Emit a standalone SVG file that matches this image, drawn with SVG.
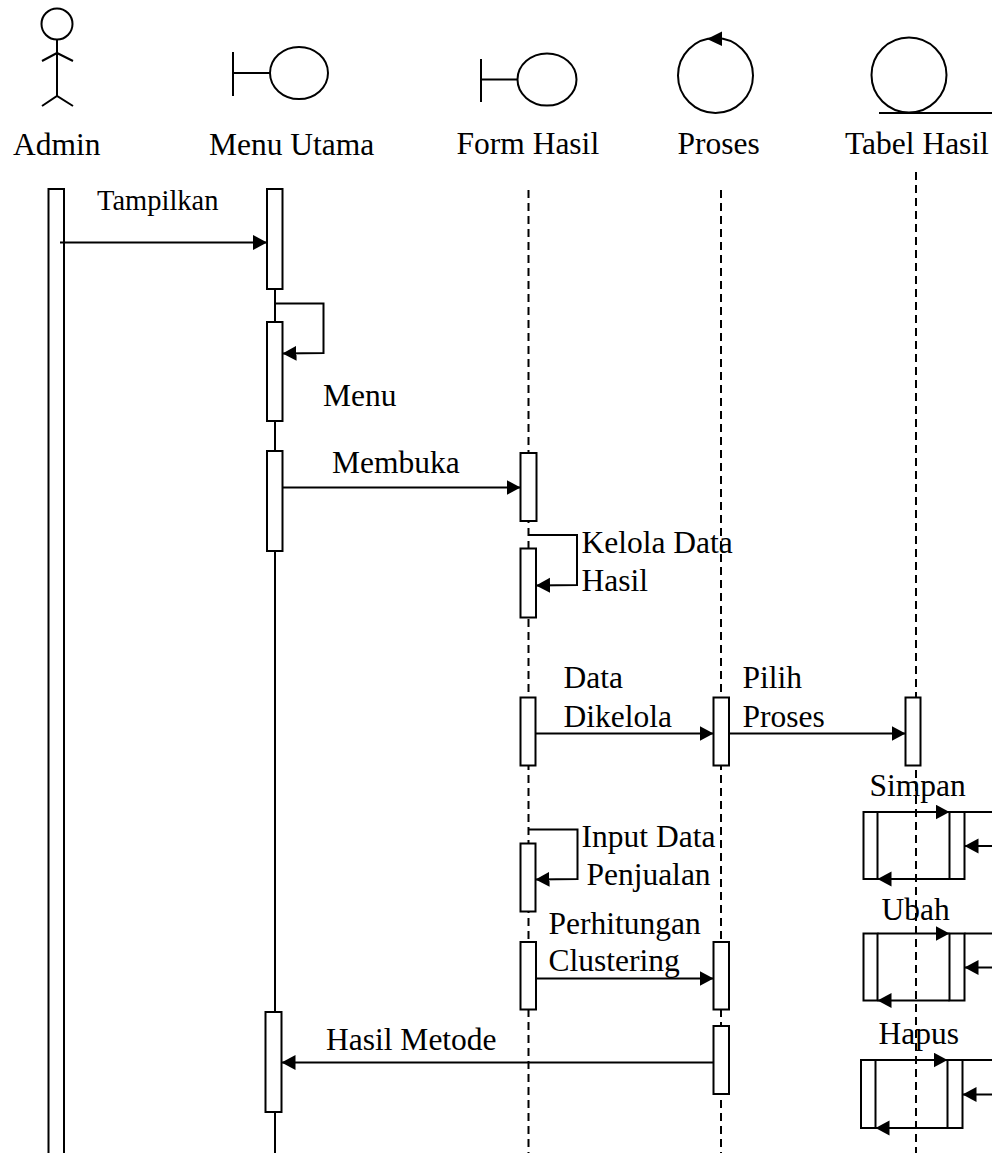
<svg xmlns="http://www.w3.org/2000/svg" width="992" height="1153" viewBox="0 0 992 1153">
<style>
.s{fill:none;stroke:#000;stroke-width:2}
.b{fill:#fff;stroke:#000;stroke-width:2}
.d{fill:none;stroke:#000;stroke-width:2;stroke-dasharray:8 5}
.m{fill:none;stroke:#000;stroke-width:2;marker-end:url(#ah)}
text{font-family:"Liberation Serif","Times New Roman",serif;font-size:31.5px;fill:#000}
.sm{font-size:28.5px}
</style>
<defs>
<marker id="ah" markerUnits="userSpaceOnUse" markerWidth="16" markerHeight="16" refX="14" refY="7.5" orient="auto">
<path d="M0,0 L14,7.5 L0,15 z" fill="#000"/>
</marker>
</defs>
<rect width="992" height="1153" fill="#fff"/>

<g id="lifelines">
<line class="s" x1="275" y1="289" x2="275" y2="1153"/>
<line class="d" x1="528.5" y1="190" x2="528.5" y2="1153"/>
<line class="d" x1="721" y1="190" x2="721" y2="1153"/>
<line class="d" x1="916" y1="172" x2="916" y2="1153"/>
</g>

<g id="admin">
<circle class="s" cx="57" cy="24" r="15.5"/>
<line class="s" x1="57" y1="39.5" x2="57" y2="96"/>
<polyline class="s" points="42,61 57,53 73,61"/>
<polyline class="s" points="42,106 57,96 73,106"/>
<text x="13" y="155">Admin</text>
<path class="b" d="M48.5,1153 V189 H64 V1153"/>
</g>

<g id="menu-utama">
<line class="s" x1="233" y1="52" x2="233" y2="96"/>
<line class="s" x1="233" y1="73" x2="270" y2="73"/>
<ellipse class="s" cx="299" cy="73" rx="29" ry="26"/>
<text x="209" y="155">Menu Utama</text>
<rect class="b" x="267" y="189" width="15.5" height="100"/>
<rect class="b" x="267" y="322" width="15.5" height="99"/>
<rect class="b" x="267" y="451" width="15.5" height="100"/>
<rect class="b" x="265.5" y="1012" width="16" height="100"/>
</g>

<g id="form-hasil">
<line class="s" x1="481" y1="59" x2="481" y2="102"/>
<line class="s" x1="481" y1="79.5" x2="517.5" y2="79.5"/>
<ellipse class="s" cx="547" cy="79.5" rx="29.5" ry="26"/>
<text x="456.5" y="154">Form Hasil</text>
<rect class="b" x="520.5" y="453" width="16" height="68"/>
<rect class="b" x="520.5" y="548.5" width="15.5" height="69"/>
<rect class="b" x="520.5" y="697.5" width="15" height="68"/>
<rect class="b" x="520.5" y="843.5" width="15" height="68"/>
<rect class="b" x="520.5" y="942" width="15.5" height="67.5"/>
</g>

<g id="proses">
<circle class="s" cx="715.5" cy="75.5" r="37.5"/>
<path d="M707,39 L722,31.5 L722,46 z" fill="#000"/>
<text x="677.5" y="154">Proses</text>
<rect class="b" x="713.5" y="697.5" width="15.5" height="68"/>
<rect class="b" x="713.5" y="942" width="15.5" height="67.5"/>
<rect class="b" x="713.5" y="1026" width="15.5" height="68"/>
</g>

<g id="tabel-hasil">
<circle class="s" cx="909" cy="75" r="37.5"/>
<line class="s" x1="879" y1="113" x2="992" y2="113"/>
<text x="845" y="154">Tabel Hasil</text>
<rect class="b" x="905.5" y="697.5" width="15" height="68"/>
</g>

<g id="simpan">
<rect class="b" x="863.5" y="812" width="14" height="67"/>
<rect class="b" x="949.5" y="812" width="15" height="67"/>
</g>
<g id="ubah">
<rect class="b" x="863.5" y="933.5" width="14" height="67"/>
<rect class="b" x="949.5" y="933.5" width="15" height="67"/>
</g>
<g id="hapus">
<rect class="b" x="861" y="1060" width="14.5" height="68"/>
<rect class="b" x="947.5" y="1060" width="15" height="68"/>
</g>

<g id="connectors">
<line class="m" x1="60" y1="242.5" x2="267" y2="242.5"/>
<polyline class="m" points="275,303.5 323.5,303.5 323.5,353 282.5,353.5"/>
<line class="m" x1="282.5" y1="487.5" x2="520.5" y2="487.5"/>
<polyline class="m" points="528.5,535 577,535 577,585 536,585.5"/>
<line class="m" x1="535.5" y1="733.5" x2="713.5" y2="733.5"/>
<line class="m" x1="729" y1="733.5" x2="905.5" y2="733.5"/>
<polyline class="m" points="528.5,829.5 577.5,829.5 577.5,879 535.5,879.5"/>
<line class="m" x1="536" y1="978.5" x2="713.5" y2="978.5"/>
<line class="m" x1="713.5" y1="1062.5" x2="281.5" y2="1062.5"/>

<line class="m" x1="877.5" y1="812" x2="949.5" y2="812"/>
<line class="s" x1="964.5" y1="812" x2="992" y2="812"/>
<line class="m" x1="992" y1="846" x2="964.5" y2="846"/>
<line class="m" x1="949.5" y1="879" x2="877.5" y2="879"/>

<line class="m" x1="877.5" y1="933.5" x2="949.5" y2="933.5"/>
<line class="s" x1="964.5" y1="933.5" x2="992" y2="933.5"/>
<line class="m" x1="992" y1="967.5" x2="964.5" y2="967.5"/>
<line class="m" x1="949.5" y1="1000.5" x2="877.5" y2="1000.5"/>

<line class="m" x1="875.5" y1="1060" x2="947.5" y2="1060"/>
<line class="s" x1="962.5" y1="1060" x2="992" y2="1060"/>
<line class="m" x1="992" y1="1094.5" x2="962.5" y2="1094.5"/>
<line class="m" x1="947.5" y1="1128" x2="875.5" y2="1128"/>
</g>

<g id="labels">
<text class="sm" x="97" y="210">Tampilkan</text>
<text x="323" y="406">Menu</text>
<text x="332" y="473">Membuka</text>
<text x="581.5" y="553">Kelola Data</text>
<text x="581.5" y="591">Hasil</text>
<text x="563.5" y="688">Data</text>
<text x="563.5" y="727">Dikelola</text>
<text x="742.5" y="688">Pilih</text>
<text x="742.5" y="727">Proses</text>
<text x="869.5" y="796">Simpan</text>
<text x="648.5" y="847" text-anchor="middle">Input Data</text>
<text x="648.5" y="885" text-anchor="middle">Penjualan</text>
<text x="881.5" y="920">Ubah</text>
<text x="548.5" y="933.5">Perhitungan</text>
<text x="548.5" y="971">Clustering</text>
<text x="326" y="1050">Hasil Metode</text>
<text x="878.5" y="1044">Hapus</text>
</g>
</svg>
